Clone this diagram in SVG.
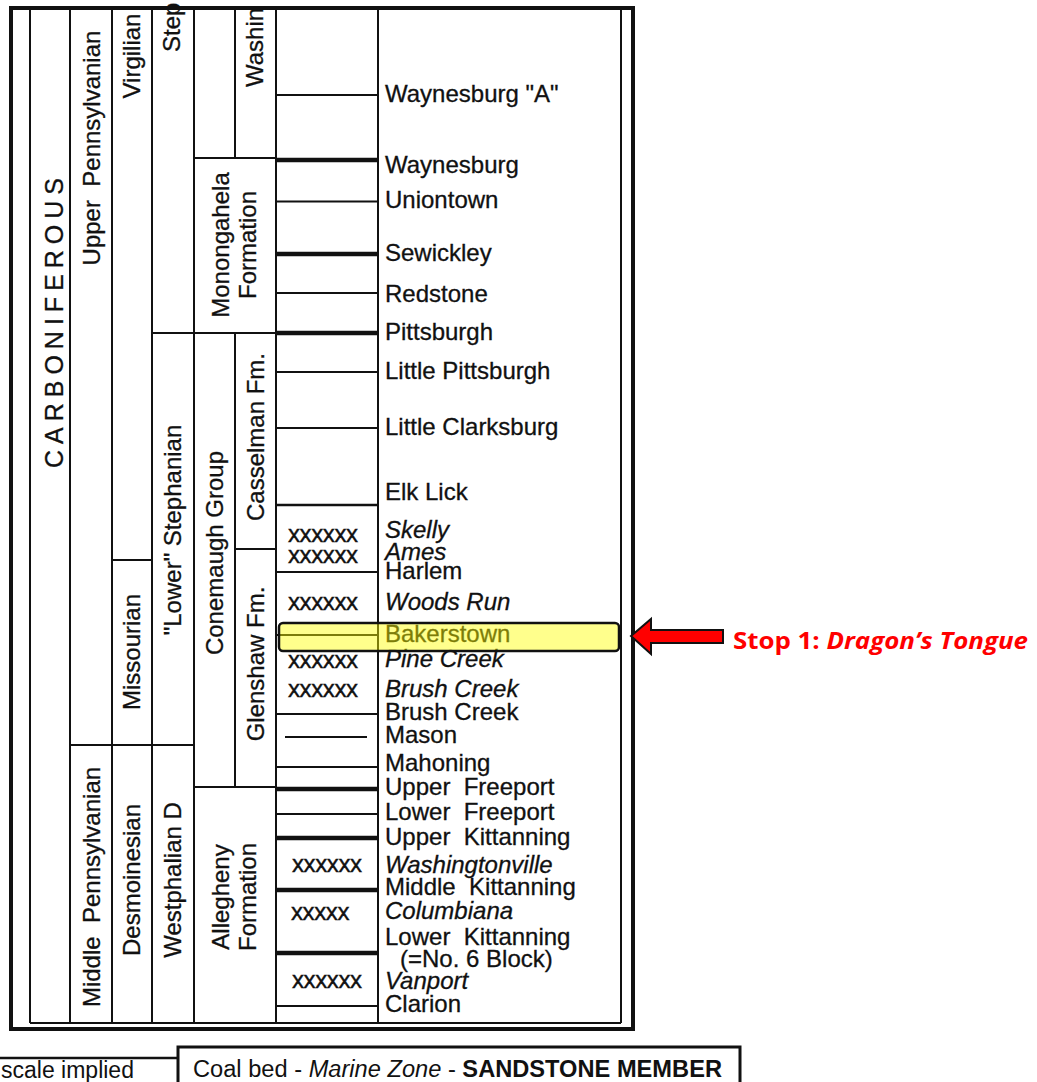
<svg xmlns="http://www.w3.org/2000/svg" width="1037" height="1082" viewBox="0 0 1037 1082">
<style>
text{font-family:"Liberation Sans",Arial,sans-serif;fill:#111}
.lbl{font-size:24px;text-anchor:middle;white-space:pre;stroke:#111;stroke-width:0.3}
.nm{font-size:24px;white-space:pre;stroke:#111;stroke-width:0.3}
.it{font-style:italic}
.xx{font-size:24px;letter-spacing:-0.4px;stroke:#111;stroke-width:0.4}
.v{stroke:#111;stroke-width:2;fill:none}
.thin{stroke:#111;stroke-width:1.8}
.thick{stroke:#111;stroke-width:4.5}
.med{stroke:#111;stroke-width:2.4}
.frame{stroke:#111;fill:none}
</style>
<rect x="0" y="0" width="1037" height="1082" fill="#fff"/>

<g id="frame">
<line x1="11" y1="8" x2="11" y2="1029" class="frame" stroke-width="4"/>
<line x1="633" y1="8" x2="633" y2="1029" class="frame" stroke-width="4"/>
<line x1="9" y1="8" x2="635" y2="8" class="frame" stroke-width="4"/>
<line x1="9" y1="1029" x2="635" y2="1029" class="frame" stroke-width="4"/>
<line x1="30" y1="8" x2="30" y2="1023" class="v"/>
<line x1="621" y1="8" x2="621" y2="1023" class="v"/>
<line x1="30" y1="1023" x2="621" y2="1023" class="v"/>
<line x1="70" y1="8" x2="70" y2="1023" class="v"/>
<line x1="112" y1="8" x2="112" y2="1023" class="v"/>
<line x1="152" y1="8" x2="152" y2="1023" class="v"/>
<line x1="194" y1="8" x2="194" y2="1023" class="v"/>
<line x1="235" y1="8" x2="235" y2="158" class="v"/>
<line x1="235" y1="333" x2="235" y2="787" class="v"/>
<line x1="276" y1="8" x2="276" y2="1023" class="v"/>
<line x1="378" y1="8" x2="378" y2="1023" class="v"/>
<line x1="194" y1="158" x2="276" y2="158" class="v"/>
<line x1="152" y1="333" x2="276" y2="333" class="v"/>
<line x1="235" y1="549" x2="276" y2="549" class="v"/>
<line x1="112" y1="560" x2="152" y2="560" class="v"/>
<line x1="70" y1="745" x2="194" y2="745" class="v"/>
<line x1="194" y1="787" x2="276" y2="787" class="v"/>
</g>

<g id="system">
<text transform="translate(63,320) rotate(-90)" class="lbl" style="font-size:25px;letter-spacing:6px">CARBONIFEROUS</text>
</g>
<g id="upper-pennsylvanian">
<text transform="translate(100,148) rotate(-90)" class="lbl">Upper  Pennsylvanian</text>
</g>
<g id="middle-pennsylvanian">
<text transform="translate(100,887) rotate(-90)" class="lbl">Middle  Pennsylvanian</text>
</g>
<g id="virgilian">
<text transform="translate(140,56) rotate(-90)" class="lbl">Virgilian</text>
</g>
<g id="missourian">
<text transform="translate(140,652) rotate(-90)" class="lbl">Missourian</text>
</g>
<g id="desmoinesian">
<text transform="translate(140,880) rotate(-90)" class="lbl">Desmoinesian</text>
</g>
<g id="stephanian">
<text transform="translate(180,52) rotate(-90)" class="lbl" style="text-anchor:start">Step</text>
</g>
<g id="lower-stephanian">
<text transform="translate(181,530) rotate(-90)" class="lbl">"Lower" Stephanian</text>
</g>
<g id="westphalian-d">
<text transform="translate(181,880) rotate(-90)" class="lbl">Westphalian D</text>
</g>
<g id="washington">
<text transform="translate(263,87) rotate(-90)" class="lbl" style="text-anchor:start">Washin</text>
</g>
<g id="monongahela">
<text transform="translate(229,245) rotate(-90)" class="lbl">Monongahela</text>
<text transform="translate(256,245) rotate(-90)" class="lbl">Formation</text>
</g>
<g id="conemaugh">
<text transform="translate(223,553) rotate(-90)" class="lbl">Conemaugh Group</text>
</g>
<g id="casselman">
<text transform="translate(264,437) rotate(-90)" class="lbl">Casselman Fm.</text>
</g>
<g id="glenshaw">
<text transform="translate(264,664) rotate(-90)" class="lbl">Glenshaw Fm.</text>
</g>
<g id="allegheny">
<text transform="translate(229,897) rotate(-90)" class="lbl">Allegheny</text>
<text transform="translate(256,897) rotate(-90)" class="lbl">Formation</text>
</g>

<g id="beds">
<line x1="277" y1="95" x2="378" y2="95" class="thin"/>
<line x1="277" y1="160" x2="378" y2="160" class="thick"/>
<line x1="277" y1="201.5" x2="378" y2="201.5" class="thin"/>
<line x1="277" y1="254" x2="378" y2="254" class="thick"/>
<line x1="277" y1="293" x2="378" y2="293" class="thin"/>
<line x1="277" y1="333" x2="378" y2="333" class="thick"/>
<line x1="277" y1="372" x2="378" y2="372" class="thin"/>
<line x1="277" y1="428" x2="378" y2="428" class="thin"/>
<line x1="277" y1="505" x2="378" y2="505" class="med"/>
<line x1="277" y1="572" x2="378" y2="572" class="thin"/>
<line x1="277" y1="635" x2="378" y2="635" class="thin"/>
<line x1="277" y1="714" x2="378" y2="714" class="thin"/>
<line x1="285" y1="737" x2="367" y2="737" class="thin"/>
<line x1="277" y1="767" x2="378" y2="767" class="thin"/>
<line x1="277" y1="789" x2="378" y2="789" class="thick"/>
<line x1="277" y1="814" x2="378" y2="814" class="thin"/>
<line x1="277" y1="838" x2="378" y2="838" class="thick"/>
<line x1="277" y1="890" x2="378" y2="890" class="thick"/>
<line x1="277" y1="953" x2="378" y2="953" class="thick"/>
<line x1="277" y1="1006" x2="378" y2="1006" class="thin"/>
<text x="288" y="542" class="xx">xxxxxx</text>
<text x="288" y="563" class="xx">xxxxxx</text>
<text x="288" y="610" class="xx">xxxxxx</text>
<text x="288" y="668" class="xx">xxxxxx</text>
<text x="288" y="697" class="xx">xxxxxx</text>
<text x="292" y="872" class="xx">xxxxxx</text>
<text x="291" y="920" class="xx">xxxxx</text>
<text x="292" y="988" class="xx">xxxxxx</text>
</g>

<g id="names">
<text x="385" y="102" class="nm">Waynesburg "A"</text>
<text x="385" y="173" class="nm">Waynesburg</text>
<text x="385" y="208" class="nm">Uniontown</text>
<text x="385" y="261" class="nm">Sewickley</text>
<text x="385" y="302" class="nm">Redstone</text>
<text x="385" y="340" class="nm">Pittsburgh</text>
<text x="385" y="379" class="nm">Little Pittsburgh</text>
<text x="385" y="435" class="nm">Little Clarksburg</text>
<text x="385" y="500" class="nm">Elk Lick</text>
<text x="385" y="538" class="nm it">Skelly</text>
<text x="385" y="560" class="nm it">Ames</text>
<text x="385" y="579" class="nm">Harlem</text>
<text x="385" y="610" class="nm it">Woods Run</text>
<text x="385" y="642" class="nm">Bakerstown</text>
<text x="385" y="667" class="nm it">Pine Creek</text>
<text x="385" y="697" class="nm it">Brush Creek</text>
<text x="385" y="720" class="nm">Brush Creek</text>
<text x="385" y="743" class="nm">Mason</text>
<text x="385" y="771" class="nm">Mahoning</text>
<text x="385" y="795" class="nm">Upper  Freeport</text>
<text x="385" y="820" class="nm">Lower  Freeport</text>
<text x="385" y="845" class="nm">Upper  Kittanning</text>
<text x="385" y="873" class="nm it">Washingtonville</text>
<text x="385" y="895" class="nm">Middle  Kittanning</text>
<text x="385" y="919" class="nm it">Columbiana</text>
<text x="385" y="945" class="nm">Lower  Kittanning</text>
<text x="400" y="967" class="nm">(=No. 6 Block)</text>
<text x="385" y="989" class="nm it">Vanport</text>
<text x="385" y="1012" class="nm">Clarion</text>
</g>

<g id="stop1-highlight">
<rect x="279" y="623" width="340" height="28" rx="4" fill="#ffff00" fill-opacity="0.45" stroke="#111" stroke-width="2.5"/>
</g>

<g id="connectors">
<polygon points="631,636 651,619 651,630 723,630 723,643 651,643 651,654" fill="#ff0000" stroke="#111" stroke-width="2" stroke-linejoin="miter"/>
</g>

<g id="stop1-label">
<text x="733" y="649" textLength="295" lengthAdjust="spacingAndGlyphs" style="font-family:'Open Sans','Liberation Sans',sans-serif;font-size:24px;font-weight:bold;fill:#ff0000">Stop 1: <tspan font-style="italic">Dragon’s Tongue</tspan></text>
</g>

<g id="scale-note">
<line x1="0" y1="1058" x2="178" y2="1058" stroke="#111" stroke-width="2.5"/>
<text x="1" y="1078" style="font-size:23px">scale implied</text>
</g>

<g id="legend">
<rect x="178" y="1047" width="562" height="45" fill="none" stroke="#111" stroke-width="3"/>
<text x="193" y="1077" textLength="529" lengthAdjust="spacingAndGlyphs" style="font-size:23px;white-space:pre">Coal bed - <tspan font-style="italic">Marine Zone</tspan> - <tspan font-weight="bold">SANDSTONE MEMBER</tspan></text>
</g>
</svg>
